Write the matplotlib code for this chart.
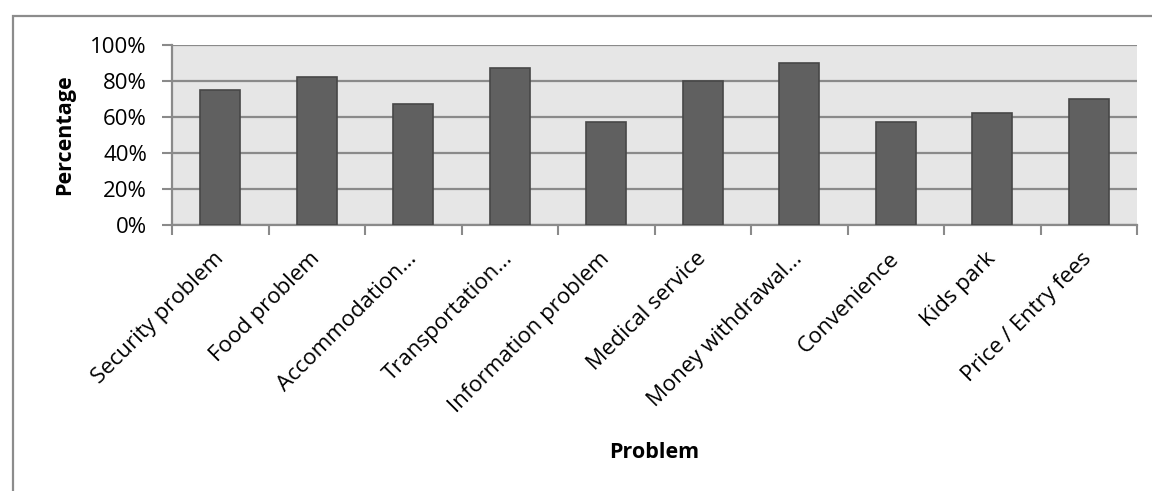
import matplotlib
matplotlib.use("Agg")
import matplotlib.pyplot as plt
from matplotlib.patches import Rectangle
from matplotlib.ticker import PercentFormatter, FixedLocator, NullFormatter

# ---------- Data ----------
problems = [
    "Security problem", "Food problem", "Accommodation...", "Transportation...",
    "Information problem", "Medical service", "Money withdrawal...",
    "Convenience", "Kids park", "Price / Entry fees",
]
percentage = [75, 82.5, 67.5, 87.5, 57.5, 80, 90, 57.5, 62.5, 70]
y_ticks = [0, 20, 40, 60, 80, 100]

plt.rcParams["font.family"] = ["Open Sans", "DejaVu Sans"]

GRID = "#8a8a8a"

fig = plt.figure(figsize=(11.52, 4.91), dpi=100)
ax = fig.add_axes([172 / 1152, 1 - 225 / 491, (1137 - 172) / 1152, 180 / 491])

# outer chart frame
fig.patches.append(Rectangle((13 / 1152, -0.05), 1.1, 1 - 16 / 491 + 0.05,
                             transform=fig.transFigure, fill=False,
                             edgecolor="#8c8c8c", linewidth=1.6, clip_on=False))

ax.set_facecolor("#e6e6e6")
x = list(range(len(problems)))
ax.bar(x, percentage, width=0.41, color="#606060", edgecolor="#474747",
       linewidth=1.2, zorder=3)

ax.set_xlim(-0.5, len(problems) - 0.5)
ax.set_ylim(0, 100)
ax.set_yticks(y_ticks)
ax.yaxis.set_major_formatter(PercentFormatter(decimals=0))
ax.grid(axis="y", color=GRID, linewidth=1.6, zorder=1)

# category separators as ticks, labels at centres
ax.xaxis.set_major_locator(FixedLocator([i - 0.5 for i in range(len(problems) + 1)]))
ax.xaxis.set_major_formatter(NullFormatter())
ax.set_xticks(x, minor=True)
ax.set_xticklabels(problems, minor=True, rotation=45, ha="right", va="center",
                   rotation_mode="anchor", fontsize=16)
ax.tick_params(axis="x", which="minor", length=0, pad=22)
ax.tick_params(axis="x", which="major", length=7, color=GRID, width=1.5)
ax.tick_params(axis="y", length=7, color=GRID, width=1.5, labelsize=16, pad=11)

for side in ["top", "right"]:
    ax.spines[side].set_visible(False)
for side in ["left", "bottom"]:
    ax.spines[side].set_color(GRID)
    ax.spines[side].set_linewidth(1.6)

fig.text(65 / 1152, 1 - 135 / 491, "Percentage", rotation=90, fontsize=15.5,
         fontweight="bold", ha="center", va="center")
fig.text(654 / 1152, 1 - 452 / 491, "Problem", fontsize=15.5, fontweight="bold",
         ha="center", va="center")

fig.savefig("out.png", dpi=100)
